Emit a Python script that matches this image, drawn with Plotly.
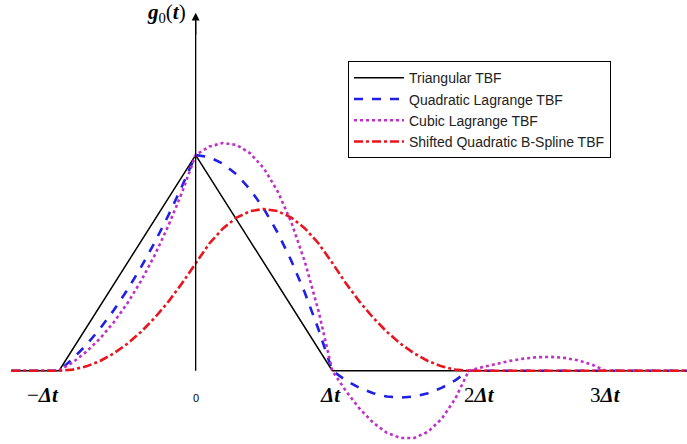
import plotly.graph_objects as go

# time axis in units of Δt
t = [-1.35, -1.0, -0.9, -0.8, -0.7, -0.6, -0.5, -0.4, -0.3, -0.2, -0.1, 0.0,
     0.1, 0.2, 0.3, 0.4, 0.5, 0.6, 0.7, 0.8, 0.9, 1.0,
     1.1, 1.2, 1.3, 1.4, 1.5, 1.6, 1.7, 1.8, 1.9, 2.0,
     2.1, 2.2, 2.3, 2.4, 2.5, 2.6, 2.7, 2.8, 2.9, 3.0, 3.6]

tri_t = [-1.35, -1.0, 0.0, 1.0, 3.6]
tri_g = [0, 0, 1.0, 0, 0]

quad_g = [0, 0, 0.055, 0.12, 0.195, 0.28, 0.375, 0.48, 0.595, 0.72, 0.855, 1.0,
          0.99, 0.96, 0.91, 0.84, 0.75, 0.64, 0.51, 0.36, 0.19, 0.0,
          -0.045, -0.08, -0.105, -0.12, -0.125, -0.12, -0.105, -0.08, -0.045, 0.0,
          0, 0, 0, 0, 0, 0, 0, 0, 0, 0, 0]

cubic_g = [0, 0, 0.0385, 0.088, 0.1495, 0.224, 0.3125, 0.416, 0.5355, 0.672, 0.8265, 1.0,
           1.0395, 1.056, 1.0465, 1.008, 0.9375, 0.832, 0.6885, 0.504, 0.2755, 0.0,
           -0.0945, -0.176, -0.2415, -0.288, -0.3125, -0.312, -0.2835, -0.224, -0.1305, 0.0,
           0.0165, 0.032, 0.0455, 0.056, 0.0625, 0.064, 0.0595, 0.048, 0.0285, 0.0, 0]

bspl_g = [0, 0, 0.005, 0.02, 0.045, 0.08, 0.125, 0.18, 0.245, 0.32, 0.405, 0.5,
          0.59, 0.66, 0.71, 0.74, 0.75, 0.74, 0.71, 0.66, 0.59, 0.5,
          0.405, 0.32, 0.245, 0.18, 0.125, 0.08, 0.045, 0.02, 0.005, 0.0,
          0, 0, 0, 0, 0, 0, 0, 0, 0, 0, 0]

tick_pos = [-1, 0, 1, 2, 3]
tick_text = ["−<b><i>Δt</i></b>", "0", "<b><i>Δt</i></b>", "2<b><i>Δt</i></b>", "3<b><i>Δt</i></b>"]

fig = go.Figure()
fig.add_trace(go.Scatter(x=tri_t, y=tri_g, mode="lines", name="Triangular TBF",
                         line=dict(color="black", width=1.5)))
fig.add_trace(go.Scatter(x=t, y=quad_g, mode="lines", name="Quadratic Lagrange TBF",
                         line=dict(color="#1f1fe6", width=2.6, dash="dash")))
fig.add_trace(go.Scatter(x=t, y=cubic_g, mode="lines", name="Cubic Lagrange TBF",
                         line=dict(color="#c030c8", width=2.6, dash="dot")))
fig.add_trace(go.Scatter(x=t, y=bspl_g, mode="lines", name="Shifted Quadratic B-Spline TBF",
                         line=dict(color="#e8141e", width=2.6, dash="dashdot")))

# vertical axis with arrow
fig.add_shape(type="line", x0=0, x1=0, y0=0, y1=1.62, line=dict(color="black", width=1.3))
fig.add_annotation(x=0, y=1.66, ax=0, ay=1.55, axref="x", ayref="y", xref="x", yref="y",
                   showarrow=True, arrowhead=2, arrowsize=1.2, arrowwidth=1.3,
                   arrowcolor="black", text="")
fig.add_annotation(x=-0.055, y=1.66, xref="x", yref="y", xanchor="right", yanchor="middle",
                   text="<b><i>g</i></b><sub>0</sub>(<b><i>t</i></b>)", showarrow=False,
                   font=dict(family="Liberation Serif", size=21, color="black"))

# tick labels
label_x = [-1.12, 0.0, 0.99, 2.08, 3.0]
for px, txt in zip(label_x, tick_text):
    if txt == "0":
        fnt = dict(family="Liberation Sans", size=11, color="black")
        y = -0.125
    else:
        fnt = dict(family="Liberation Serif", size=21, color="black")
        y = -0.115
    fig.add_annotation(x=px, y=y, xref="x", yref="y", text=txt, showarrow=False,
                       font=fnt, xanchor="center", yanchor="middle")

fig.update_layout(
    width=687, height=444,
    margin=dict(l=11, r=0, t=0, b=0),
    paper_bgcolor="white", plot_bgcolor="white",
    xaxis=dict(range=[-1.352, 3.597], visible=False),
    yaxis=dict(range=[-0.340, 1.719], visible=False),
    showlegend=True,
    legend=dict(x=0.4985, y=0.862, xanchor="left", yanchor="top",
                bordercolor="black", borderwidth=1, bgcolor="white",
                font=dict(family="Liberation Sans", size=14, color="#222222"),
                tracegroupgap=0, itemwidth=50),
)

fig.write_html("out.html", config={"displayModeBar": False},
               post_script="document.body.style.margin='0px';")
